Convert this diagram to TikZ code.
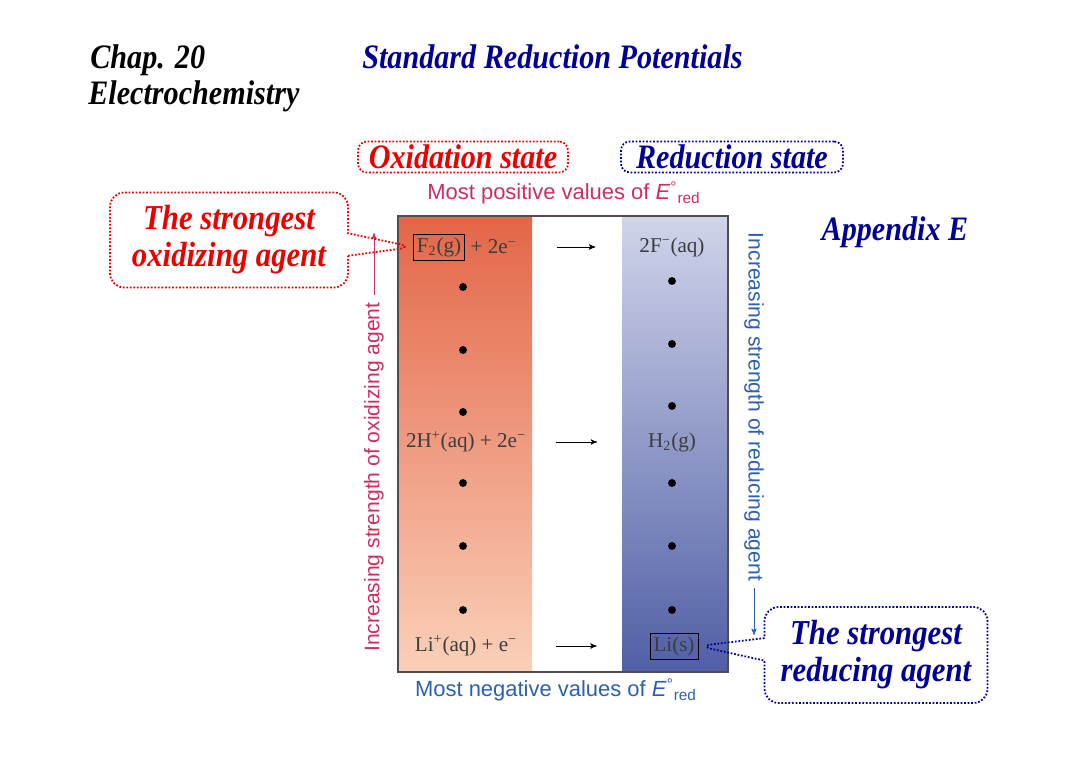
\documentclass[tikz,border=0pt]{standalone}
\usepackage{fontspec}
\setmainfont{Liberation Serif}
\setsansfont{Liberation Sans}
\newfontfamily\headfont[FakeStretch=0.88]{Liberation Serif}
\usetikzlibrary{arrows,calc,positioning,shapes,shapes.callouts}

\definecolor{navy}{RGB}{0,0,150}
\definecolor{hotred}{RGB}{235,0,0}
\definecolor{oxpink}{RGB}{205,45,95}
\definecolor{redblue}{RGB}{45,95,175}
\definecolor{ink}{RGB}{60,60,60}
\definecolor{framegray}{RGB}{85,75,75}

\tikzset{
	head/.style={font=\headfont\fontsize{19.5}{22}\selectfont\bfseries\itshape, inner sep=0pt},
	statebox/.style={draw, densely dotted, line width=1pt, rounded corners=5pt,
		minimum height=0.62cm, inner sep=0pt,
		font=\headfont\fontsize{19.5}{22}\selectfont\bfseries\itshape},
	agentcall/.style={rectangle callout, draw, densely dotted, line width=1pt,
		rounded corners=8pt, align=center, callout pointer width=0.45cm,
		font=\headfont\fontsize{19.9}{21}\selectfont\bfseries\itshape},
	chem/.style={font=\fontsize{12}{14}\selectfont, text=ink, inner sep=1pt},
	spot/.style={circle, fill=black, inner sep=0pt, minimum size=4.5pt},
	axislbl/.style={font=\sffamily\fontsize{12}{14}\selectfont, inner sep=0pt},
	rxn/.style={->, thin, shorten <=0.76cm, shorten >=0.84cm}
}

\begin{document}
\begin{tikzpicture}[x=0.02cm, y=-0.02cm, >=stealth']
	\useasboundingbox (0,0) rectangle (1080,763);
	
	% headings
	\node[head, anchor=base west] (chap) at (90,69) {Chap. 20};
	\node[head, anchor=base west] (elec) at (88,105) {Electrochemistry};
	\node[head, anchor=base west, text=navy] (title) at (362,69) {Standard Reduction Potentials};
	\node[head, text=navy] (appx) at (895,232) {Appendix E};
	
	\node[statebox, draw=hotred, text=hotred, minimum width=4.2cm] (oxst) at (463,157) {Oxidation state};
	\node[statebox, draw=navy, text=navy, minimum width=4.44cm] (redst) at (732,157) {Reduction state};
	
	% table
	\shade[top color={rgb,255:red,227;green,102;blue,72},
		middle color={rgb,255:red,241;green,158;blue,128},
		bottom color={rgb,255:red,250;green,208;blue,185}] (398,216) rectangle (532,672);
	\shade[top color={rgb,255:red,208;green,212;blue,234},
		middle color={rgb,255:red,140;green,150;blue,205},
		bottom color={rgb,255:red,80;green,95;blue,165}] (622,216) rectangle (728,672);
	\draw[framegray, line width=0.9pt] (398,216) rectangle (728,672);
	
	\node[axislbl, text=oxpink, font=\sffamily\fontsize{12.5}{14}\selectfont] (mostpos) at (564,193) {Most positive values of \textit{E}\textsuperscript{°}\textsubscript{red}};
	\node[axislbl, text=redblue, font=\sffamily\fontsize{12.5}{14}\selectfont] (mostneg) at (556,690) {Most negative values of \textit{E}\textsuperscript{°}\textsubscript{red}};
	
	% reactions
	\node[chem, draw=black, inner sep=2pt] (f2) at (439,247) {F\textsubscript{2}(g)};
	\node[chem, right=2pt of f2] (f2e) {+ 2e\textsuperscript{−}};
	\node[chem] (fm) at (672,247) {2F\textsuperscript{−}(aq)};
	\draw[rxn] (f2e.east) -- (fm.west |- f2e.east);
	
	\node[chem] (hp) at (466,442) {2H\textsuperscript{+}(aq) + 2e\textsuperscript{−}};
	\node[chem] (h2) at (672,442) {H\textsubscript{2}(g)};
	\draw[rxn, shorten <=0.56cm, shorten >=0.98cm] (hp.east) -- (h2.west);
	
	\node[chem] (lip) at (466,646) {Li\textsuperscript{+}(aq) + e\textsuperscript{−}};
	\node[chem, draw=black, inner sep=2pt] (li) at (674,646) {Li(s)};
	\draw[rxn, shorten <=0.74cm, shorten >=1.06cm] (lip.east) -- (li.west);
	
	\foreach \y in {287,350,412,483,546,610}
		\node[spot] (lp\y) at (463,\y) {};
	\foreach \y in {281,344,406,483,546,610}
		\node[spot] (rp\y) at (672,\y) {};
	
	% side labels
	\node[axislbl, text=oxpink, rotate=90] (oxlbl) at (374,477) {Increasing strength of oxidizing agent};
	\coordinate (oxtip) at (377,233);
	\draw[->, oxpink, shorten <=4pt] (oxlbl.east) -- (oxlbl.east |- oxtip);
	
	\node[axislbl, text=redblue, rotate=-90] (redlbl) at (754,407) {Increasing strength of reducing agent};
	\coordinate (redtip) at (754,635);
	\draw[->, redblue, shorten <=4pt] (redlbl.east) -- (redlbl.east |- redtip);
	
	% callouts
	\node[agentcall, draw=hotred, text=hotred, minimum width=4.76cm, minimum height=1.9cm,
		callout absolute pointer={(f2.west)}] (oxcall) at (229,240) {The strongest\\oxidizing agent};
	\node[agentcall, draw=navy, text=navy, minimum width=4.46cm, minimum height=1.92cm,
		callout absolute pointer={(li.east)}] (redcall) at (876,655) {The strongest\\reducing agent};
\end{tikzpicture}
\end{document}
